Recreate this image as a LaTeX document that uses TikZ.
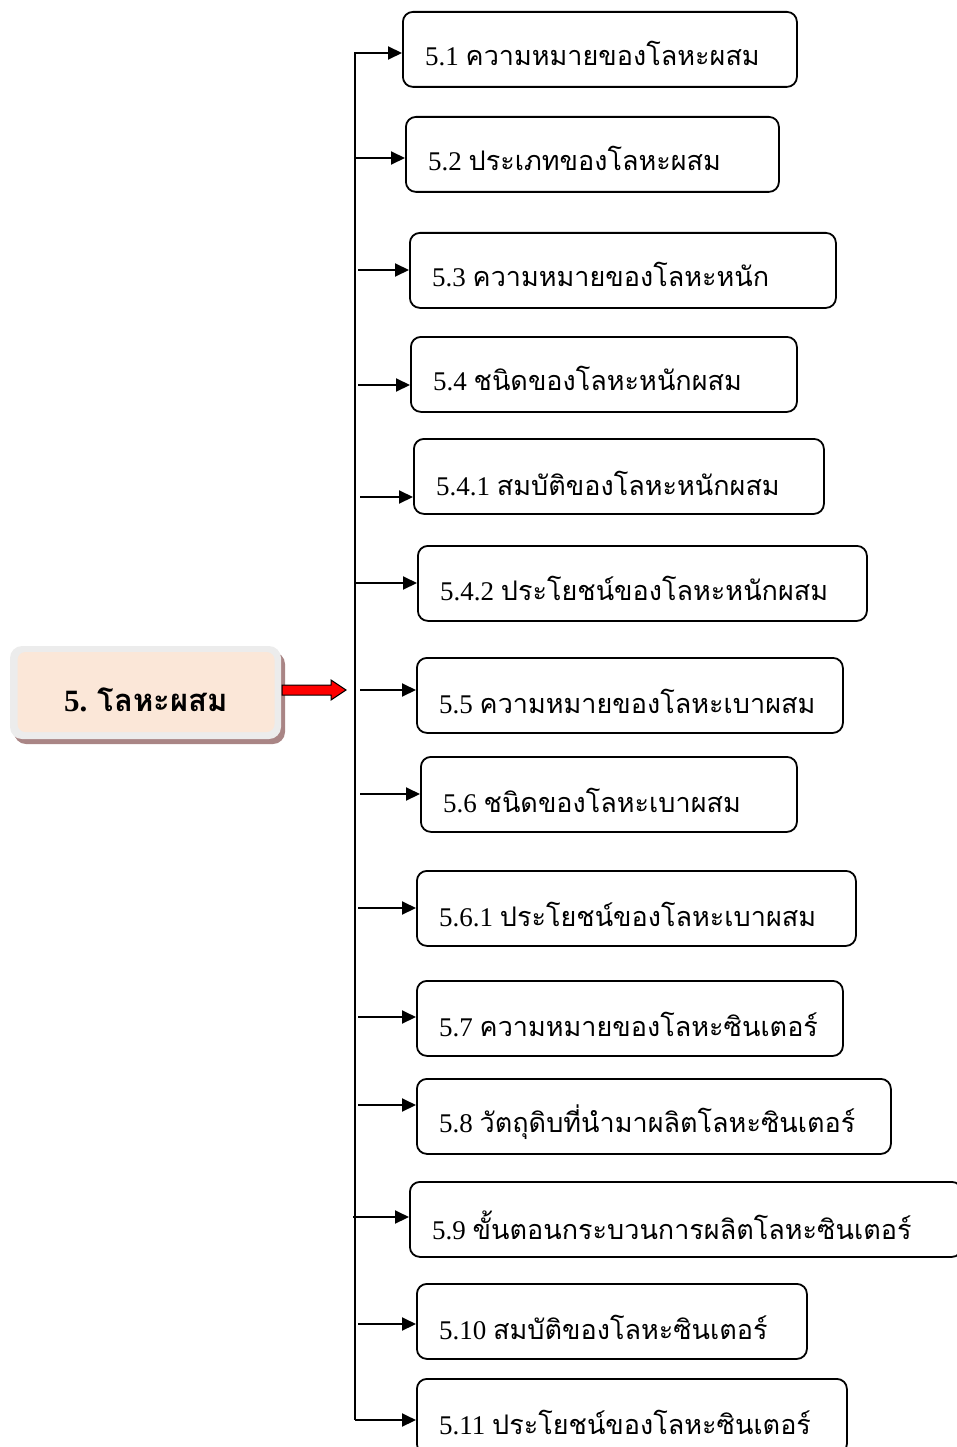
\documentclass[tikz,border=0pt]{standalone}
\usepackage{fontspec}
\setmainfont{Liberation Serif}
\newfontfamily\thai[Script=Thai]{Loma}
\usetikzlibrary{arrows.meta,calc}
\definecolor{peach}{HTML}{FBE7D8}
\definecolor{rimgray}{HTML}{ECECEC}
\definecolor{shadowc}{HTML}{A98585}
\tikzset{
  itembox/.style={draw=black, line width=1.8pt, rounded corners=10pt, minimum height=75pt, inner sep=0pt, anchor=north west},
  itemtext/.style={anchor=west, inner sep=0pt, font=\fontsize{27}{31}\selectfont},
  conn/.style={line width=2pt, -{Triangle[length=14pt,width=13pt]}},
  trunk/.style={line width=2pt}
}
\newcommand{\itm}[2]{#1 {\thai #2}}
\begin{document}
\begin{tikzpicture}[x=1pt,y=-1pt]
\useasboundingbox (0,0) rectangle (956,1447);
% left title box
\fill[shadowc, rounded corners=12pt] (14,652) rectangle (285,744);
\fill[rimgray, rounded corners=12pt] (10,646) rectangle (281,739);
\node[fill=peach, rounded corners=8pt, minimum width=257pt, minimum height=80pt, inner sep=0pt] (main) at (146,692) {};
\node[font=\bfseries\fontsize{31}{35}\selectfont] (maintext) at (146,700) {5. {\thai โลหะผสม}};
% red arrow
\coordinate (ra) at (282,690);
\coordinate (rb) at (346,690);
\draw[draw=black, fill=red, line width=1pt] (282,685) -- (331,685) -- (331,680) -- (346,690) -- (331,700) -- (331,695) -- (282,695) -- cycle;
% boxes
\node[itembox, minimum width=394pt] (b1) at (402,11) {};
\node[itembox, minimum width=373pt] (b2) at (405,116) {};
\node[itembox, minimum width=426pt] (b3) at (409,232) {};
\node[itembox, minimum width=386pt] (b4) at (410,336) {};
\node[itembox, minimum width=410pt] (b5) at (413,438) {};
\node[itembox, minimum width=449pt] (b6) at (417,545) {};
\node[itembox, minimum width=426pt] (b7) at (416,657) {};
\node[itembox, minimum width=376pt] (b8) at (420,756) {};
\node[itembox, minimum width=439pt] (b9) at (416,870) {};
\node[itembox, minimum width=426pt] (b10) at (416,980) {};
\node[itembox, minimum width=474pt] (b11) at (416,1078) {};
\node[itembox, minimum width=552pt] (b12) at (409,1181) {};
\node[itembox, minimum width=390pt] (b13) at (416,1283) {};
\node[itembox, minimum width=430pt] (b14) at (416,1378) {};
% texts
\node[itemtext] (t1) at ($(b1.west)+(23,4)$) {\itm{5.1}{ความหมายของโลหะผสม}};
\node[itemtext] (t2) at ($(b2.west)+(23,4)$) {\itm{5.2}{ประเภทของโลหะผสม}};
\node[itemtext] (t3) at ($(b3.west)+(23,4)$) {\itm{5.3}{ความหมายของโลหะหนัก}};
\node[itemtext] (t4) at ($(b4.west)+(23,4)$) {\itm{5.4}{ชนิดของโลหะหนักผสม}};
\node[itemtext] (t5) at ($(b5.west)+(23,7)$) {\itm{5.4.1}{สมบัติของโลหะหนักผสม}};
\node[itemtext] (t6) at ($(b6.west)+(23,5)$) {\itm{5.4.2}{ประโยชน์ของโลหะหนักผสม}};
\node[itemtext] (t7) at ($(b7.west)+(23,6)$) {\itm{5.5}{ความหมายของโลหะเบาผสม}};
\node[itemtext] (t8) at ($(b8.west)+(23,6)$) {\itm{5.6}{ชนิดของโลหะเบาผสม}};
\node[itemtext] (t9) at ($(b9.west)+(23,6)$) {\itm{5.6.1}{ประโยชน์ของโลหะเบาผสม}};
\node[itemtext] (t10) at ($(b10.west)+(23,6)$) {\itm{5.7}{ความหมายของโลหะซินเตอร์}};
\node[itemtext] (t11) at ($(b11.west)+(23,6)$) {\itm{5.8}{วัตถุดิบที่นำมาผลิตโลหะซินเตอร์}};
\node[itemtext] (t12) at ($(b12.west)+(23,6)$) {\itm{5.9}{ขั้นตอนกระบวนการผลิตโลหะซินเตอร์}};
\node[itemtext] (t13) at ($(b13.west)+(23,6)$) {\itm{5.10}{สมบัติของโลหะซินเตอร์}};
\node[itemtext] (t14) at ($(b14.west)+(23,6)$) {\itm{5.11}{ประโยชน์ของโลหะซินเตอร์}};
% trunk
\coordinate (top) at (355,53);
\coordinate (bot) at (355,1420);
\draw[trunk] (top) -- (bot);
% connectors
\coordinate (s1) at (354,53);
\coordinate (s2) at (355,158);
\coordinate (s3) at (358,270);
\coordinate (s4) at (358,385);
\coordinate (s5) at (360,497);
\coordinate (s6) at (355,583);
\coordinate (s7) at (360,690);
\coordinate (s8) at (360,794);
\coordinate (s9) at (358,908);
\coordinate (s10) at (358,1017);
\coordinate (s11) at (358,1105);
\coordinate (s12) at (353,1217);
\coordinate (s13) at (358,1324);
\coordinate (s14) at (355,1420);
\draw[conn] (s1) -- (s1 -| b1.west);
\draw[conn] (s2) -- (s2 -| b2.west);
\draw[conn] (s3) -- (s3 -| b3.west);
\draw[conn] (s4) -- (s4 -| b4.west);
\draw[conn] (s5) -- (s5 -| b5.west);
\draw[conn] (s6) -- (s6 -| b6.west);
\draw[conn] (s7) -- (s7 -| b7.west);
\draw[conn] (s8) -- (s8 -| b8.west);
\draw[conn] (s9) -- (s9 -| b9.west);
\draw[conn] (s10) -- (s10 -| b10.west);
\draw[conn] (s11) -- (s11 -| b11.west);
\draw[conn] (s12) -- (s12 -| b12.west);
\draw[conn] (s13) -- (s13 -| b13.west);
\draw[conn] (s14) -- (s14 -| b14.west);
\end{tikzpicture}
\end{document}
